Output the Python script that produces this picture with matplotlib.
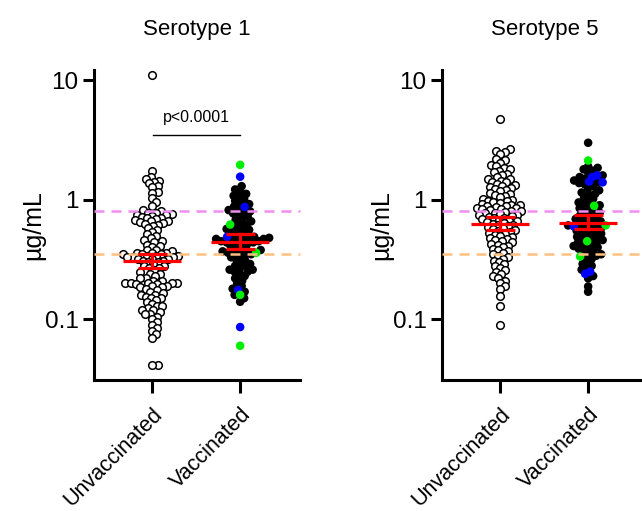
import numpy as np
import matplotlib.pyplot as plt

plt.rcParams['font.family'] = ['Liberation Sans', 'DejaVu Sans']

# ---- data (ug/mL) ----
groups = ['Unvaccinated', 'Vaccinated']
titles = ['Serotype 1', 'Serotype 5']

s1_unvacc = [
    11.0,
    1.75, 1.55, 1.50, 1.45, 1.42, 1.38, 1.30, 1.28, 1.17, 1.15, 1.03, 0.95, 0.88,
    0.82, 0.80, 0.78, 0.78, 0.76, 0.75, 0.74, 0.73, 0.72, 0.71, 0.70, 0.69,
    0.68, 0.67, 0.66, 0.65, 0.64, 0.63, 0.62, 0.60,
    0.58, 0.56, 0.54, 0.52, 0.50, 0.48, 0.46, 0.45, 0.44, 0.42, 0.41, 0.40,
    0.38, 0.38, 0.37, 0.36, 0.36, 0.36, 0.35, 0.35, 0.35, 0.34, 0.34, 0.34,
    0.33, 0.33, 0.33, 0.32, 0.32, 0.32, 0.31, 0.31, 0.30, 0.30,
    0.29, 0.28, 0.28, 0.27, 0.27, 0.26, 0.25, 0.25, 0.24, 0.24, 0.23, 0.22, 0.22, 0.21,
    0.21, 0.20, 0.20, 0.20, 0.20, 0.20, 0.198, 0.198, 0.19, 0.19, 0.185, 0.185,
    0.18, 0.175, 0.17, 0.165, 0.16, 0.16, 0.155, 0.15, 0.15, 0.145, 0.14,
    0.135, 0.13, 0.13, 0.125, 0.12, 0.12, 0.115, 0.11, 0.11, 0.105, 0.10,
    0.095, 0.09, 0.085, 0.08, 0.075, 0.07,
    0.041, 0.041,
]
s1_vacc_black = [
    1.30, 1.22, 1.18, 1.12, 1.08, 1.05, 1.02, 0.98, 0.95, 0.92,
    0.88, 0.85, 0.82, 0.80, 0.79, 0.77, 0.75, 0.73,
    0.70, 0.68, 0.66, 0.64, 0.62, 0.60, 0.58, 0.57, 0.56, 0.55, 0.54, 0.52,
    0.50, 0.50, 0.49, 0.48, 0.48, 0.47, 0.47, 0.46, 0.46, 0.45, 0.45, 0.45, 0.44, 0.44, 0.43,
    0.42, 0.41, 0.40, 0.39, 0.38, 0.38, 0.37, 0.36, 0.36, 0.35, 0.35, 0.34,
    0.33, 0.32, 0.31, 0.30, 0.29, 0.28, 0.28, 0.27, 0.26, 0.26, 0.25, 0.25,
    0.24, 0.23, 0.22, 0.21, 0.20, 0.19, 0.18,
    0.17, 0.16, 0.15, 0.14,
]
s1_vacc_blue = [1.56, 0.87, 0.49, 0.176, 0.086]
s1_vacc_green = [1.96, 0.62, 0.36, 0.16, 0.06]

s5_unvacc = [
    4.7,
    2.65, 2.55, 2.50, 2.40, 2.20, 2.15,
    2.05, 1.95, 1.90, 1.85, 1.80, 1.75, 1.70, 1.65, 1.60, 1.55, 1.50, 1.48, 1.45,
    1.42, 1.40, 1.35, 1.32, 1.30, 1.28, 1.25, 1.22, 1.20, 1.18, 1.15, 1.12, 1.10,
    1.08, 1.05, 1.02,
    1.00, 0.98, 0.97, 0.95, 0.94, 0.92, 0.91, 0.90, 0.89, 0.88, 0.87, 0.86, 0.85,
    0.84, 0.83, 0.82, 0.81, 0.80, 0.79, 0.78, 0.77, 0.76, 0.75, 0.74, 0.73, 0.72,
    0.71, 0.70, 0.69, 0.68, 0.67, 0.66, 0.65, 0.64, 0.63, 0.62, 0.61, 0.60, 0.59,
    0.58, 0.57, 0.56, 0.55, 0.54,
    0.53, 0.52, 0.51, 0.50, 0.49, 0.48, 0.47, 0.46, 0.45, 0.44, 0.43, 0.42, 0.41,
    0.40, 0.39, 0.38, 0.37, 0.36, 0.35, 0.34, 0.33, 0.32, 0.31,
    0.30, 0.29, 0.28, 0.27, 0.26, 0.25, 0.24, 0.23, 0.22, 0.21, 0.20, 0.19, 0.18,
    0.158, 0.128, 0.089,
]
s5_vacc_black = [
    3.0,
    1.90, 1.85, 1.80, 1.75, 1.70,
    1.60, 1.55, 1.50, 1.45, 1.40, 1.38, 1.35, 1.30, 1.25, 1.20, 1.15, 1.12, 1.10,
    1.05, 1.02,
    0.98, 0.95, 0.92, 0.90, 0.88, 0.85, 0.82, 0.80, 0.78, 0.76, 0.74, 0.72, 0.70,
    0.69, 0.68, 0.66, 0.65, 0.64, 0.62, 0.61, 0.60, 0.59, 0.58, 0.57, 0.56, 0.55,
    0.54, 0.53, 0.52, 0.51, 0.50, 0.49, 0.48, 0.47, 0.46, 0.45, 0.44, 0.43, 0.42,
    0.41, 0.40, 0.40, 0.39, 0.38, 0.37, 0.36, 0.35, 0.34, 0.33, 0.32, 0.30, 0.29,
    0.28, 0.27, 0.26, 0.23, 0.22, 0.188, 0.17,
]
s5_vacc_blue = [1.60, 1.55, 1.42, 1.40, 0.60, 0.25, 0.24]
s5_vacc_green = [2.13, 0.89, 0.61, 0.45, 0.335]

# geometric mean and 95% CI (mean, low, high) per group
s1_stats = [(0.31, 0.27, 0.35), (0.445, 0.39, 0.52)]
s5_stats = [(0.63, 0.56, 0.72), (0.645, 0.57, 0.75)]

thresholds = [0.8, 0.35]
threshold_colors = ['#F28CF2', '#FFC080']
p_text = 'p<0.0001'
p_bar_y = 3.5


def swarm_x(ax, xc, values, diam=5.2, step=0.5):
    """Beeswarm layout in pixel space, returns x positions in data units."""
    values = np.asarray(values, dtype=float)
    pts = ax.transData.transform(np.column_stack([np.full(len(values), xc), values]))
    ys = pts[:, 1]
    px_per_unit = ax.transData.transform((1, 1))[0] - ax.transData.transform((0, 1))[0]
    offs = np.zeros(len(values))
    placed = []
    for i in np.argsort(ys):
        y = ys[i]
        near = [(o, py) for o, py in placed if abs(py - y) < diam]
        k = 0
        while True:
            cands = [0.0] if k == 0 else [k * step, -k * step]
            hit = None
            for c in cands:
                if all((c - o) ** 2 + (py - y) ** 2 >= diam ** 2 for o, py in near):
                    hit = c
                    break
            if hit is not None:
                break
            k += 1
        offs[i] = hit
        placed.append((hit, y))
    return xc + offs / px_per_unit


def draw_panel(ax, title, unvacc, black, blue, green, stats, show_p):
    ax.set_yscale('log')
    ax.set_ylim(0.031, 12.2)
    ax.set_xlim(-0.66, 1.68)

    # unvaccinated: open circles
    xs = swarm_x(ax, 0, unvacc)
    ax.scatter(xs, unvacc, s=30, facecolor='white', edgecolor='black',
               linewidth=1.1, zorder=3, clip_on=False)

    # vaccinated: filled, coloured subsets drawn on top
    vals = list(black) + list(blue) + list(green)
    cols = ['black'] * len(black) + ['#0000FF'] * len(blue) + ['#00EE00'] * len(green)
    xs = swarm_x(ax, 1, vals)
    order = [i for i in range(len(vals)) if cols[i] == 'black'] + \
            [i for i in range(len(vals)) if cols[i] != 'black']
    ax.scatter(xs[order], np.array(vals)[order], s=38, c=[cols[i] for i in order],
               linewidth=0, zorder=3, clip_on=False)

    for t, c in zip(thresholds, threshold_colors):
        ax.axhline(t, color=c, lw=1.8, dashes=(4, 2.8), zorder=4, clip_on=False)

    for x, (m, lo, hi) in enumerate(stats):
        ax.plot([x - 0.33, x + 0.33], [m, m], color='red', lw=2.3, zorder=5,
                solid_capstyle='butt')
        ax.plot([x, x], [lo, hi], color='red', lw=2.3, zorder=5)
        for v in (lo, hi):
            ax.plot([x - 0.165, x + 0.165], [v, v], color='red', lw=2.3, zorder=5,
                    solid_capstyle='butt')

    if show_p:
        ax.plot([0.01, 1.0], [p_bar_y, p_bar_y], color='black', lw=1.0)
        ax.text(0.5, p_bar_y * 1.2, p_text, ha='center', va='bottom', fontsize=11.5)

    ax.set_title(title, fontsize=16, pad=25.5)
    ax.set_ylabel('µg/mL', fontsize=18, labelpad=0)
    ax.set_yticks([0.1, 1, 10])
    ax.set_yticklabels(['0.1', '1', '10'])
    ax.minorticks_off()
    ax.set_xticks([0, 1])
    ax.set_xticklabels(groups, rotation=45, ha='right', rotation_mode='anchor')
    ax.tick_params(axis='both', labelsize=17.5, width=2.2, direction='out')
    ax.tick_params(axis='y', length=8, pad=3)
    ax.tick_params(axis='x', length=9, pad=8, labelsize=15.5)
    for side in ('top', 'right'):
        ax.spines[side].set_visible(False)
    for side in ('left', 'bottom'):
        ax.spines[side].set_linewidth(2.2)


fig = plt.figure(figsize=(6.42, 5.11), dpi=100)
ax1 = fig.add_axes([94 / 642, 1 - 380 / 511, 206 / 642, 310 / 511])
ax2 = fig.add_axes([442 / 642, 1 - 380 / 511, 206 / 642, 310 / 511])

draw_panel(ax1, titles[0], s1_unvacc, s1_vacc_black, s1_vacc_blue, s1_vacc_green,
           s1_stats, True)
draw_panel(ax2, titles[1], s5_unvacc, s5_vacc_black, s5_vacc_blue, s5_vacc_green,
           s5_stats, False)

fig.savefig('out.png', dpi=100)
